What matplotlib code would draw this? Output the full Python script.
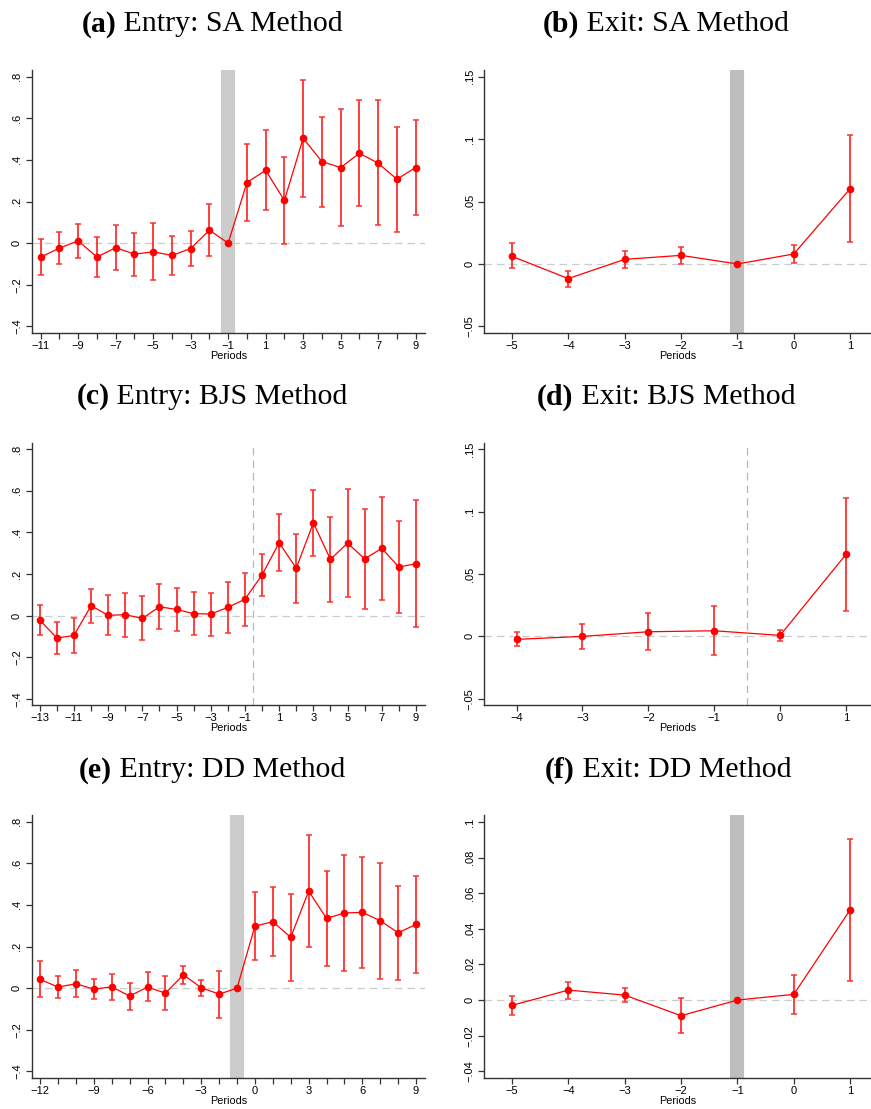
import matplotlib.pyplot as plt
import numpy as np

# ---- event-study estimates: coefficient, lower and upper 95% bound ----
sa_entry_x = list(range(-11, 10))
sa_entry_coef = [-0.067, -0.024, 0.011, -0.067, -0.022, -0.053, -0.042, -0.059, -0.026, 0.062, 0.0,
                 0.291, 0.350, 0.205, 0.504, 0.392, 0.363, 0.432, 0.384, 0.307, 0.363]
sa_entry_lo = [-0.155, -0.100, -0.072, -0.163, -0.131, -0.157, -0.179, -0.152, -0.110, -0.064, 0.0,
               0.107, 0.158, -0.005, 0.222, 0.174, 0.083, 0.176, 0.085, 0.054, 0.133]
sa_entry_hi = [0.021, 0.053, 0.093, 0.029, 0.085, 0.050, 0.099, 0.034, 0.056, 0.189, 0.0,
               0.474, 0.542, 0.413, 0.784, 0.608, 0.643, 0.688, 0.688, 0.558, 0.592]

sa_exit_x = list(range(-5, 2))
sa_exit_coef = [0.0061, -0.0117, 0.0037, 0.0069, 0.0, 0.0080, 0.0603]
sa_exit_lo = [-0.0035, -0.0187, -0.0035, 0.0000, 0.0, 0.0005, 0.0176]
sa_exit_hi = [0.0165, -0.0053, 0.0107, 0.0139, 0.0, 0.0149, 0.1030]

bjs_entry_x = list(range(-13, 10))
bjs_entry_coef = [-0.021, -0.107, -0.095, 0.048, 0.002, 0.005, -0.013, 0.043, 0.030, 0.010, 0.008,
                  0.040, 0.079, 0.196, 0.351, 0.228, 0.447, 0.271, 0.349, 0.273, 0.324, 0.234, 0.250]
bjs_entry_lo = [-0.093, -0.184, -0.180, -0.035, -0.095, -0.103, -0.119, -0.066, -0.074, -0.095, -0.098,
                -0.083, -0.050, 0.095, 0.213, 0.063, 0.289, 0.067, 0.090, 0.032, 0.077, 0.014, -0.056]
bjs_entry_hi = [0.050, -0.032, -0.010, 0.130, 0.098, 0.111, 0.095, 0.151, 0.135, 0.114, 0.111,
                0.164, 0.207, 0.298, 0.487, 0.393, 0.606, 0.473, 0.611, 0.515, 0.572, 0.457, 0.555]

bjs_exit_x = list(range(-4, 2))
bjs_exit_coef = [-0.0024, 0.0, 0.0037, 0.0045, 0.0008, 0.0657]
bjs_exit_lo = [-0.0080, -0.0101, -0.0112, -0.0152, -0.0037, 0.0203]
bjs_exit_hi = [0.0032, 0.0101, 0.0184, 0.0243, 0.0053, 0.1110]

dd_entry_x = list(range(-12, 10))
dd_entry_coef = [0.042, 0.005, 0.021, -0.005, 0.006, -0.038, 0.005, -0.024, 0.064, 0.002, -0.029, 0.0,
                 0.298, 0.319, 0.244, 0.466, 0.335, 0.361, 0.364, 0.324, 0.266, 0.306]
dd_entry_lo = [-0.045, -0.048, -0.045, -0.051, -0.055, -0.106, -0.064, -0.107, 0.021, -0.038, -0.143, 0.0,
               0.135, 0.154, 0.032, 0.196, 0.106, 0.080, 0.095, 0.045, 0.040, 0.075]
dd_entry_hi = [0.130, 0.056, 0.088, 0.043, 0.067, 0.026, 0.077, 0.059, 0.106, 0.040, 0.083, 0.0,
               0.460, 0.484, 0.454, 0.737, 0.563, 0.641, 0.630, 0.600, 0.491, 0.537]

dd_exit_x = list(range(-5, 2))
dd_exit_coef = [-0.0030, 0.0056, 0.0028, -0.0088, 0.0, 0.0032, 0.0507]
dd_exit_lo = [-0.0086, 0.0007, -0.0011, -0.0184, 0.0, -0.0077, 0.0109]
dd_exit_hi = [0.0022, 0.0103, 0.0066, 0.0009, 0.0, 0.0139, 0.0906]

titles = [("(a)", " Entry: SA Method"), ("(b)", " Exit: SA Method"),
          ("(c)", " Entry: BJS Method"), ("(d)", " Exit: BJS Method"),
          ("(e)", " Entry: DD Method"), ("(f)", " Exit: DD Method")]

entry_yticks = [-0.4, -0.2, 0.0, 0.2, 0.4, 0.6, 0.8]
entry_ylabels = ["\u2212.4", "\u2212.2", "0", ".2", ".4", ".6", ".8"]
exit_yticks = [-0.05, 0.0, 0.05, 0.1, 0.15]
exit_ylabels = ["\u2212.05", "0", ".05", ".1", ".15"]
dd_exit_yticks = [-0.04, -0.02, 0.0, 0.02, 0.04, 0.06, 0.08, 0.1]
dd_exit_ylabels = ["\u2212.04", "\u2212.02", "0", ".02", ".04", ".06", ".08", ".1"]

plt.rcParams['font.family'] = ['Liberation Sans', 'DejaVu Sans']

W, H = 871, 1109
fig = plt.figure(figsize=(W / 100, H / 100), dpi=100)


def make_axes(left, top, right, bottom):
    return fig.add_axes([left / W, 1 - bottom / H, (right - left) / W, (bottom - top) / H])


def fmt_x(v):
    return str(v).replace("-", "\u2212")


def panel(ax, x, coef, lo, hi, xlim, ylim, yticks, ylabels, xlabel_step, xlabel_start,
          shade=None, shade_color=None, vline=None):
    coef = np.array(coef)
    err = [coef - np.array(lo), np.array(hi) - coef]
    if shade is not None:
        ax.axvline(shade, color=shade_color, lw=10.2, zorder=0, solid_capstyle='butt')
    if vline is not None:
        ax.axvline(vline, color='#b8b8b8', lw=0.9, ls=(0, (6, 4)), zorder=1)
    ax.axhline(0, color='#cccccc', lw=0.9, ls=(0, (6, 4)), zorder=1)
    ax.errorbar(x, coef, yerr=err, fmt='none', ecolor='#ff3030', elinewidth=1.3,
                capsize=2.5, capthick=1.1, zorder=2)
    ax.plot(x, coef, color='red', lw=0.9, marker='o', markersize=5.5,
            markeredgewidth=0, zorder=3)
    ax.set_xlim(*xlim)
    ax.set_ylim(*ylim)
    ax.set_xticks(x)
    ax.set_xticklabels([fmt_x(v) if (v - xlabel_start) % xlabel_step == 0 else "" for v in x],
                       fontsize=8)
    ax.set_yticks(yticks)
    ax.set_yticklabels(ylabels, fontsize=8, rotation=90, va='center')
    ax.tick_params(axis='x', length=4.3, width=0.9, pad=1.5, color='#333333')
    ax.tick_params(axis='y', length=4, width=0.9, pad=3, color='#333333')
    for side in ['top', 'right']:
        ax.spines[side].set_visible(False)
    for side in ['left', 'bottom']:
        ax.spines[side].set_linewidth(1.0)
        ax.spines[side].set_color('#333333')
    ax.set_xlabel("Periods", fontsize=7.8, labelpad=0)


ax_a = make_axes(31.7, 70, 425, 333)
panel(ax_a, sa_entry_x, sa_entry_coef, sa_entry_lo, sa_entry_hi, (-11.48, 9.5), (-0.432, 0.832),
      entry_yticks, entry_ylabels, 2, -11, shade=-1, shade_color='#cccccc')

ax_b = make_axes(484.3, 70, 871, 333)
panel(ax_b, sa_exit_x, sa_exit_coef, sa_exit_lo, sa_exit_hi, (-5.49, 1.37), (-0.0553, 0.1554),
      exit_yticks, exit_ylabels, 1, -5, shade=-1, shade_color='#bebebe')

ax_c = make_axes(31.7, 443, 425, 705)
panel(ax_c, bjs_entry_x, bjs_entry_coef, bjs_entry_lo, bjs_entry_hi, (-13.47, 9.53), (-0.429, 0.83),
      entry_yticks, entry_ylabels, 2, -13, vline=-0.5)

ax_d = make_axes(484.3, 443, 871, 705)
panel(ax_d, bjs_exit_x, bjs_exit_coef, bjs_exit_lo, bjs_exit_hi, (-4.49, 1.38), (-0.055, 0.155),
      exit_yticks, exit_ylabels, 1, -4, vline=-0.5)

ax_e = make_axes(31.7, 815, 425, 1078)
panel(ax_e, dd_entry_x, dd_entry_coef, dd_entry_lo, dd_entry_hi, (-12.47, 9.5), (-0.432, 0.832),
      entry_yticks, entry_ylabels, 3, -12, shade=-1, shade_color='#cccccc')

ax_f = make_axes(484.3, 815, 871, 1078)
panel(ax_f, dd_exit_x, dd_exit_coef, dd_exit_lo, dd_exit_hi, (-5.49, 1.37), (-0.0438, 0.104),
      dd_exit_yticks, dd_exit_ylabels, 1, -5, shade=-1, shade_color='#bebebe')

# panel titles: bold letter followed by regular text, centred as a whole
renderer = fig.canvas.get_renderer()
centres = [(212, 24), (666, 24), (212, 397), (666, 397), (212, 770), (668, 770)]
for (tag, rest), (cx, cy) in zip(titles, centres):
    t1 = fig.text(0, 1 - cy / H, tag, fontsize=21.5, fontweight='bold',
                  family='Liberation Serif', va='center', ha='left')
    t2 = fig.text(0, 1 - cy / H, rest, fontsize=21.5,
                  family='Liberation Serif', va='center', ha='left')
    w1 = t1.get_window_extent(renderer).width
    w2 = t2.get_window_extent(renderer).width
    x0 = cx - (w1 + w2) / 2
    t1.set_x(x0 / W)
    t2.set_x((x0 + w1) / W)

fig.savefig("out.png", dpi=100)
